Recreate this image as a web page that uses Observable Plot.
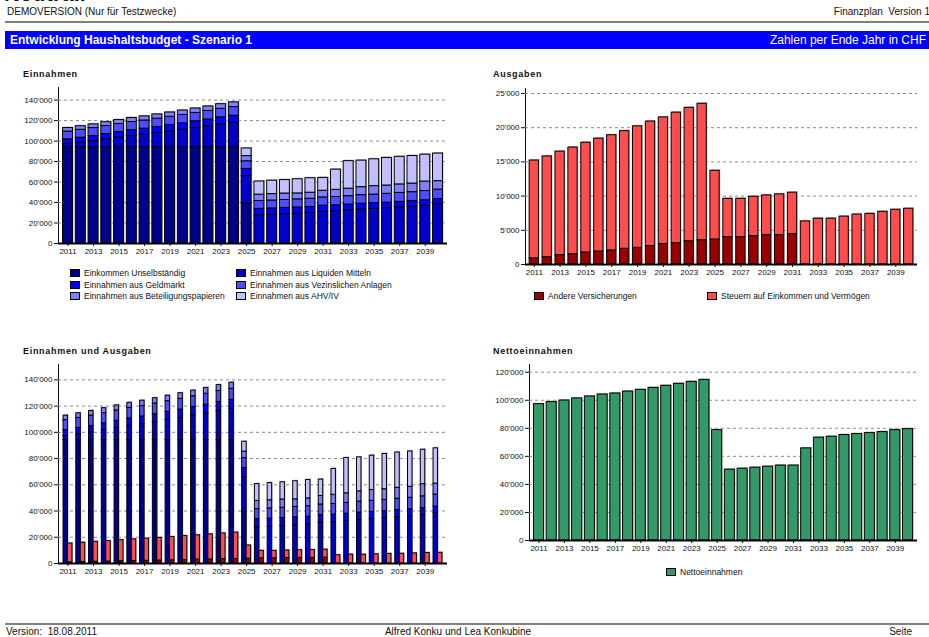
<!DOCTYPE html>
<html><head><meta charset="utf-8">
<script src="https://cdn.jsdelivr.net/npm/d3@7"></script>
<script src="https://cdn.jsdelivr.net/npm/@observablehq/plot@0.6"></script>
<style>
body{margin:0;background:#fff;}
#page{position:relative;width:929px;height:637px;overflow:hidden;background:#fff;font-family:"Liberation Sans",Arial,sans-serif;color:#111;}
.abs{position:absolute;white-space:nowrap;}
.narrow{font-family:"Liberation Sans Narrow","Arial Narrow","Liberation Sans",sans-serif;}
.ptitle{font-weight:bold;font-size:9px;letter-spacing:0.7px;}
.leg{position:absolute;white-space:nowrap;font-size:8.5px;display:flex;align-items:center;}
.sw{width:10px;height:8px;border:1px solid #000;margin-right:4px;box-sizing:border-box;}
.panel{position:absolute;}
</style></head><body>
<div id="page">
  <div class="abs" style="left:4px;top:-19px;font-size:22px;font-weight:bold;">Neutral.</div>
  <div class="abs narrow" style="left:7px;top:6px;font-size:10px;">DEMOVERSION (Nur für Testzwecke)</div>
  <div class="abs narrow" style="right:-1px;top:6px;font-size:10px;">Finanzplan&nbsp; Version 1</div>
  <div class="abs" style="left:5px;top:21px;width:924px;height:2px;background:#808080;"></div>
  <div class="abs" style="left:5px;top:31px;width:924px;height:18px;background:#0000FF;"></div>
  <div class="abs narrow" style="left:10px;top:33px;font-size:12px;font-weight:bold;color:#fff;">Entwicklung Haushaltsbudget - Szenario 1</div>
  <div class="abs narrow" style="right:3px;top:33px;font-size:12px;color:#fff;">Zahlen per Ende Jahr in CHF</div>

  <div class="abs ptitle" style="left:23px;top:69px;">Einnahmen</div>
  <div class="abs ptitle" style="left:493px;top:69px;">Ausgaben</div>
  <div class="abs ptitle" style="left:23px;top:346px;">Einnahmen und Ausgaben</div>
  <div class="abs ptitle" style="left:493px;top:346px;">Nettoeinnahmen</div>

  <div id="p1" class="panel"></div>
  <div id="p2" class="panel"></div>
  <div id="p3" class="panel"></div>
  <div id="p4" class="panel"></div>
  <div id="legends"></div>

  <div class="abs" style="left:5px;top:623px;width:924px;height:2px;background:#808080;"></div>
  <div class="abs narrow" style="left:6px;top:626px;font-size:10px;">Version:&nbsp; 18.08.2011</div>
  <div class="abs narrow" style="left:458px;top:626px;font-size:10px;transform:translateX(-50%);">Alfred Konku und Lea Konkubine</div>
  <div class="abs narrow" style="right:17px;top:626px;font-size:10px;">Seite</div>
</div>
<script>
// ---------- data ----------
const years = [2011,2012,2013,2014,2015,2016,2017,2018,2019,2020,2021,2022,2023,2024,2025,2026,2027,2028,2029,2030,2031,2032,2033,2034,2035,2036,2037,2038,2039,2040];
const yearLabels = [2011,2013,2015,2017,2019,2021,2023,2025,2027,2029,2031,2033,2035,2037,2039];

const einkommenUnselbstaendig = [94000,94000,94000,94000,94000,94000,94000,94000,94000,94000,94000,94000,94000,94000,39300,0,0,0,0,0,0,0,0,0,0,0,0,0,0,0];
const liquideMittel = [3200,4500,5900,7800,9400,11000,12400,13900,15400,17000,18800,20400,22300,23800,26500,27500,28000,28600,29200,29800,31000,31500,32500,33200,33800,34600,35300,36000,37000,38400];
const geldmarkt = [4500,4800,5000,5100,5400,5600,5700,5900,6200,6300,6500,6700,6900,7000,7000,6300,6200,6100,6000,5900,5900,5800,5500,5600,5500,5300,5400,5300,5200,5000];
const verzinslicheAnlagen = [7600,7700,7800,7800,7900,8000,8000,8100,8100,8200,8200,8300,8300,8400,7500,7700,7800,7800,7900,8000,8100,8100,8200,8400,8500,8600,8700,8800,9000,9200];
const beteiligungspapiere = [3400,3500,3600,3700,3800,3900,4000,4100,4200,4300,4300,4400,4500,4600,5000,6200,6200,6300,5800,5900,6500,7000,7300,7800,8200,8100,8300,8400,9300,8300];
const ahvIv = [0,0,0,0,0,0,0,0,0,0,0,0,0,0,7500,12800,13100,13100,13800,14100,12500,19700,26900,25900,26200,26900,26900,26900,26200,26900];

const andereVersicherungen = [900,1070,1370,1500,1760,1900,2050,2300,2440,2700,3000,3100,3400,3550,3660,4000,4000,4150,4300,4300,4450,0,0,0,0,0,0,0,0,0];
const steuern = [14300,14730,15130,15600,16040,16500,16850,17200,17760,18200,18500,19100,19500,19950,10040,5600,5600,5750,5800,5950,6050,6300,6700,6700,7000,7300,7400,7700,8000,8150];

const nettoeinnahmen = [97200,98700,99800,101300,102700,104100,104800,106200,107400,108800,110300,111700,113100,114500,78700,50500,51200,51900,52600,53400,53400,65700,73300,74000,75200,75900,76600,77300,78700,79400];

const incomeNames = ["Einkommen Unselbständig","Einnahmen aus Liquiden Mitteln","Einnahmen aus Geldmarkt","Einnahmen aus Vezinslichen Anlagen","Einnahmen aus Beteiligungspapieren","Einnahmen aus AHV/IV"];
const incomeColors = ["#00008B","#0000CC","#0000FF","#4D4DFF","#8080FF","#C0C0FF"];
const expenseNames = ["Andere Versicherungen","Steuern auf Einkommen und Vermögen"];
const expenseColors = ["#990000","#FF4D4D"];
const nettoName = "Nettoeinnahmen";
const nettoColor = "#339966";

const incomeTicks = [0,20000,40000,60000,80000,100000,120000,140000];
const expenseTicks = [0,5000,10000,15000,20000,25000];
const nettoTicks = [0,20000,40000,60000,80000,100000,120000];

// ---------- tables ----------
const incomeSeries = [einkommenUnselbstaendig, liquideMittel, geldmarkt, verzinslicheAnlagen, beteiligungspapiere, ahvIv];
const expenseSeries = [andereVersicherungen, steuern];
function tidy(names, series){
  const rows=[];
  names.forEach((n,si)=>series[si].forEach((v,i)=>{ if(v>0) rows.push({year:years[i], series:n, value:v}); }));
  return rows;
}
const incomeRows = tidy(incomeNames, incomeSeries);
const expenseRows = tidy(expenseNames, expenseSeries);
const incomeTotals = years.map((y,i)=>({year:y, value:d3.sum(incomeSeries, s=>s[i])}));
const expenseTotals = years.map((y,i)=>({year:y, value:d3.sum(expenseSeries, s=>s[i])}));
const nettoRows = years.map((y,i)=>({year:y, series:nettoName, value:nettoeinnahmen[i]}));

const fmt = d => d3.format(",")(d).replace(/,/g,"'");
const FONT = "'Liberation Sans', Arial, sans-serif";

function panel(id, cfg){
  const el = document.getElementById(id);
  el.style.left = cfg.left+"px"; el.style.top = cfg.top+"px";
  const chart = Plot.plot({
    width: cfg.width, height: cfg.height,
    marginLeft: cfg.ml, marginRight: cfg.mr, marginTop: cfg.mt, marginBottom: cfg.mb,
    style: {fontSize:"8px", fontFamily: FONT, background:"transparent", color:"#111", overflow:"visible"},
    x: {type:"band", domain: years, round: false, paddingInner: cfg.pi, paddingOuter: cfg.po, ticks: yearLabels, tickSize: 3, tickPadding: 2, tickFormat: d=>String(d), label: null},
    y: {domain: cfg.yDomain, ticks: cfg.yTicks, tickFormat: fmt, tickSize: 4, tickPadding: 2, line: true, label: null},
    color: {domain: cfg.colorDomain, range: cfg.colorRange},
    marks: [
      Plot.ruleY(cfg.yTicks.filter(d=>d>0), {stroke:"#8c8c8c", strokeWidth:1, strokeDasharray:"3,3"}),
      ...cfg.marks,
      Plot.ruleY([0], {stroke:"#000", strokeWidth:2})
    ]
  });
  el.appendChild(chart);
}

// Panel 1: Einnahmen
panel("p1", {left:0, top:80, width:465, height:183, ml:58, mr:18, mt:7, mb:20,
  yDomain:[0,152300], yTicks: incomeTicks, pi:0.22, po:0.355,
  colorDomain: incomeNames, colorRange: incomeColors,
  marks: [
    Plot.barY(incomeTotals, {x:"year", y:"value", fill:"#b4b4b4", dx:1, dy:-1}),
    Plot.barY(incomeRows, {x:"year", y:"value", fill:"series", stroke:"#000", strokeWidth:1})
  ]});

// Panel 2: Ausgaben
panel("p2", {left:465, top:80, width:464, height:204, ml:60, mr:12, mt:8, mb:20,
  yDomain:[0,25730], yTicks: expenseTicks, pi:0.28, po:0.32,
  colorDomain: expenseNames, colorRange: expenseColors,
  marks: [
    Plot.barY(expenseTotals, {x:"year", y:"value", fill:"#b4b4b4", dx:1, dy:-1}),
    Plot.barY(expenseRows, {x:"year", y:"value", fill:"series", stroke:"#000", strokeWidth:1})
  ]});

// Panel 3: Einnahmen und Ausgaben
const half = 4.45;
panel("p3", {left:0, top:355, width:465, height:228, ml:58, mr:18, mt:9, mb:20,
  yDomain:[0,151700], yTicks: incomeTicks, pi:0.30, po:0.395,
  colorDomain: [...incomeNames, ...expenseNames], colorRange: [...incomeColors, ...expenseColors],
  marks: [
    Plot.barY(incomeTotals, {x:"year", y:"value", fill:"#b4b4b4", dx:1, dy:-1, insetRight: half}),
    Plot.barY(expenseTotals, {x:"year", y:"value", fill:"#b4b4b4", dx:1, dy:-1, insetLeft: half}),
    Plot.barY(incomeRows, {x:"year", y:"value", fill:"series", stroke:"#000", strokeWidth:1, insetRight: half}),
    Plot.barY(expenseRows, {x:"year", y:"value", fill:"series", stroke:"#000", strokeWidth:1, insetLeft: half})
  ]});

// Panel 4: Nettoeinnahmen
panel("p4", {left:465, top:355, width:464, height:205, ml:64, mr:12, mt:9, mb:20,
  yDomain:[0,125500], yTicks: nettoTicks, pi:0.21, po:0.35,
  colorDomain: [nettoName], colorRange: [nettoColor],
  marks: [
    Plot.barY(nettoRows, {x:"year", y:"value", fill:"#b4b4b4", dx:1, dy:-1}),
    Plot.barY(nettoRows, {x:"year", y:"value", fill:"series", stroke:"#000", strokeWidth:1})
  ]});

// Legends
const legendItems = [
  {name: incomeNames[0], color: incomeColors[0], x:70, y:268},
  {name: incomeNames[1], color: incomeColors[1], x:236, y:268},
  {name: incomeNames[2], color: incomeColors[2], x:70, y:279.5},
  {name: incomeNames[3], color: incomeColors[3], x:236, y:279.5},
  {name: incomeNames[4], color: incomeColors[4], x:70, y:291},
  {name: incomeNames[5], color: incomeColors[5], x:236, y:291},
  {name: expenseNames[0], color: expenseColors[0], x:534, y:291},
  {name: expenseNames[1], color: expenseColors[1], x:707, y:291},
  {name: nettoName, color: nettoColor, x:666, y:567}
];
const lg = document.getElementById("legends");
legendItems.forEach(it=>{
  const d = document.createElement("div");
  d.className = "leg";
  d.style.left = it.x+"px"; d.style.top = it.y+"px";
  d.innerHTML = `<div class="sw" style="background:${it.color}"></div><span>${it.name}</span>`;
  lg.appendChild(d);
});
</script>
</body></html>
